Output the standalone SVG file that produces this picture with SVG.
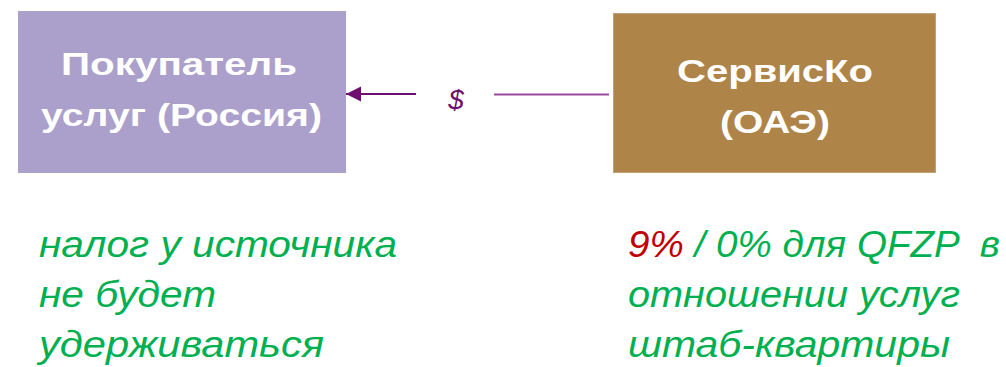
<svg xmlns="http://www.w3.org/2000/svg" width="1006" height="367" viewBox="0 0 1006 367">
<style>
.box-t{font-family:"Liberation Sans",Arial,sans-serif;font-weight:bold;font-size:31px;fill:#fff}
.note{font-family:"Liberation Sans",Arial,sans-serif;font-style:italic;font-size:36px;fill:#00B050}
.red{fill:#C00000}
.cur{font-family:"Liberation Sans",Arial,sans-serif;font-style:italic;font-size:28px;fill:#6E0E6E;text-anchor:middle}
</style>
<defs>
<marker id="ah" markerWidth="16" markerHeight="16" refX="15" refY="7.5" orient="auto" markerUnits="userSpaceOnUse">
<path d="M0,0 L15,7.5 L0,15 Z" fill="#6E0E6E"/>
</marker>
</defs>
<rect width="1006" height="367" fill="#fff"/>
<g id="buyer">
<rect x="18" y="11" width="328" height="162" fill="#AB9FCB"/>
<text class="box-t" x="61" y="75" textLength="236" lengthAdjust="spacingAndGlyphs">Покупатель</text>
<text class="box-t" x="41" y="126" textLength="281" lengthAdjust="spacingAndGlyphs">услуг (Россия)</text>
</g>
<g id="serviceco">
<rect x="613.5" y="13.5" width="322" height="159" fill="#AE8449" stroke="#C2A178" stroke-width="1"/>
<text class="box-t" x="677" y="82" textLength="196" lengthAdjust="spacingAndGlyphs">СервисКо</text>
<text class="box-t" x="720" y="133" textLength="110" lengthAdjust="spacingAndGlyphs">(ОАЭ)</text>
</g>
<g id="connectors">
<line x1="609" y1="94.5" x2="494" y2="94.5" stroke="#9A4A9A" stroke-width="2"/>
<line x1="416" y1="94" x2="346" y2="94" stroke="#6E0E6E" stroke-width="2" marker-end="url(#ah)"/>
<text class="cur" x="456" y="109">$</text>
</g>
<g id="note-left">
<text class="note" x="39" y="257" textLength="358" lengthAdjust="spacingAndGlyphs">налог у источника</text>
<text class="note" x="39" y="307" textLength="177" lengthAdjust="spacingAndGlyphs">не будет</text>
<text class="note" x="39" y="357" textLength="285" lengthAdjust="spacingAndGlyphs">удерживаться</text>
</g>
<g id="note-right">
<text class="note" x="628" y="257" xml:space="preserve" textLength="372" lengthAdjust="spacingAndGlyphs"><tspan class="red">9%</tspan> / 0% для QFZP  в</text>
<text class="note" x="628" y="307" textLength="332" lengthAdjust="spacingAndGlyphs">отношении услуг</text>
<text class="note" x="628" y="357" textLength="322" lengthAdjust="spacingAndGlyphs">штаб-квартиры</text>
</g>
</svg>
